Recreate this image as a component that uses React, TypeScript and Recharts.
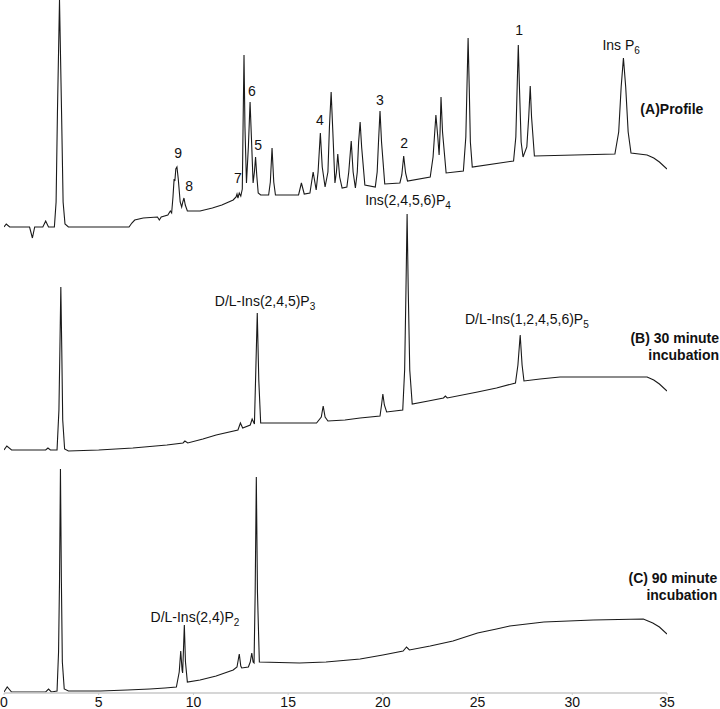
import React from "react";
import { LineChart, Line, XAxis, YAxis, ReferenceDot } from "recharts";

// Retention time (min) vs detector signal
const traceProfile: [number, number][] = [
  [0, 0], [0.12, 3], [0.3, 0], [1.35, 0], [1.5, -11], [1.62, 0], [2.05, 0], [2.2, 6], [2.35, 0],
  [2.66, 0], [2.75, 25], [2.82, 113], [2.93, 227], [3.04, 113], [3.12, 25], [3.22, 3], [3.4, 0],
  [6.6, 0], [6.75, 4], [6.9, 7], [7.35, 9], [8.1, 10], [8.2, 7], [8.3, 10], [8.65, 12], [8.78, 16],
  [8.85, 14], [8.92, 30], [8.98, 48], [9.02, 46], [9.07, 58], [9.13, 60], [9.2, 48], [9.3, 25],
  [9.38, 20], [9.44, 25], [9.5, 29], [9.57, 22], [9.68, 16], [9.9, 16], [10.35, 16], [11.0, 19],
  [11.5, 22], [12.1, 27], [12.25, 30], [12.3, 33], [12.35, 29], [12.42, 34], [12.5, 31],
  [12.58, 38], [12.62, 100], [12.67, 172], [12.72, 100], [12.8, 44], [12.9, 80], [12.99, 125],
  [13.08, 80], [13.15, 44], [13.22, 55], [13.28, 70], [13.35, 50], [13.42, 34], [13.55, 32],
  [13.97, 32], [14.06, 45], [14.15, 79], [14.24, 45], [14.33, 32], [15.55, 32], [15.7, 44],
  [15.85, 33], [16.15, 34], [16.32, 55], [16.48, 37], [16.58, 55], [16.7, 94], [16.8, 60],
  [16.95, 40], [17.1, 55], [17.18, 100], [17.27, 135], [17.36, 95], [17.47, 44], [17.55, 55],
  [17.62, 73], [17.72, 50], [17.85, 39], [18.1, 40], [18.2, 55], [18.33, 86], [18.43, 55],
  [18.55, 39], [18.65, 55], [18.72, 85], [18.8, 105], [18.88, 80], [19.05, 42], [19.6, 40],
  [19.7, 55], [19.77, 85], [19.85, 116], [19.93, 85], [20.1, 43], [20.9, 44], [21.0, 52],
  [21.1, 71], [21.2, 54], [21.3, 46], [22.5, 50], [22.65, 70], [22.8, 112], [22.9, 90],
  [22.97, 72], [23.02, 95], [23.07, 130], [23.15, 95], [23.34, 54], [24.25, 56], [24.38, 90],
  [24.44, 140], [24.5, 189], [24.56, 140], [24.62, 85], [24.72, 60], [26.9, 66], [27.02, 90],
  [27.09, 140], [27.15, 182], [27.21, 140], [27.3, 85], [27.4, 70], [27.6, 80], [27.7, 110],
  [27.78, 141], [27.85, 110], [28.0, 71], [32.25, 73], [32.45, 95], [32.58, 140], [32.7, 169],
  [32.82, 140], [32.95, 95], [33.1, 74], [33.95, 72], [34.3, 69], [34.6, 65], [35.0, 58],
];

const trace30min: [number, number][] = [
  [0, 0], [0.15, 4], [0.4, 0], [2.2, 0], [2.32, 2], [2.45, 0], [2.8, 0], [2.9, 40], [2.95, 100],
  [3.0, 163], [3.05, 100], [3.1, 30], [3.2, 1], [3.4, -1], [5.0, 0], [6.8, 2], [8.0, 4], [8.6, 5],
  [9.45, 7], [9.55, 9], [9.7, 7], [10.5, 11], [11.2, 15], [12.35, 20], [12.48, 27], [12.6, 22],
  [13.0, 25], [13.1, 31], [13.22, 26], [13.28, 70], [13.37, 137], [13.45, 70], [13.55, 27],
  [16.5, 27], [16.75, 33], [16.85, 44], [16.95, 33], [17.1, 29], [18.0, 30], [18.8, 32],
  [19.85, 34], [19.93, 45], [20.0, 56], [20.08, 45], [20.2, 38], [21.05, 40], [21.15, 80],
  [21.22, 160], [21.28, 236], [21.34, 160], [21.42, 80], [21.55, 46], [22.4, 49], [23.2, 52],
  [23.3, 54], [23.4, 52], [25.0, 58], [26.0, 62], [27.0, 67], [27.13, 85], [27.25, 115],
  [27.35, 85], [27.45, 69], [28.3, 71], [29.35, 73], [32.9, 73], [33.95, 73], [34.3, 70],
  [34.6, 66], [35.0, 59],
];

const trace90min: [number, number][] = [
  [0, 0], [0.17, 5], [0.4, 0], [2.2, 0], [2.35, 3], [2.5, 0], [2.8, 1], [2.88, 40], [2.93, 110],
  [2.98, 223], [3.03, 110], [3.08, 30], [3.18, 3], [3.4, 1], [5.1, 1], [6.5, 2], [7.7, 3],
  [8.5, 4], [9.1, 5], [9.25, 20], [9.33, 41], [9.4, 22], [9.43, 19], [9.47, 40], [9.52, 67],
  [9.58, 30], [9.68, 10], [10.35, 12], [11.2, 16], [12.1, 22], [12.3, 25], [12.42, 38],
  [12.5, 26], [12.55, 24], [12.9, 25], [13.0, 30], [13.08, 39], [13.15, 30], [13.2, 29],
  [13.26, 100], [13.32, 215], [13.38, 100], [13.48, 30], [15.6, 29], [17.0, 30], [18.8, 33],
  [20.0, 37], [21.07, 41], [21.25, 45], [21.4, 42], [22.5, 46], [23.7, 51], [25.0, 59],
  [26.0, 63], [26.7, 66], [28.5, 70], [31.1, 72], [33.75, 73], [34.25, 69], [34.6, 65],
  [35.0, 58],
];

const xTicks = [0, 5, 10, 15, 20, 25, 30, 35];

type Annot = { series: string; t: number; v: number; text: string; sub?: string };

const peakLabels: Annot[] = [
  { series: "a", t: 9.19, v: 69, text: "9" },
  { series: "a", t: 9.77, v: 36, text: "8" },
  { series: "a", t: 12.35, v: 44, text: "7" },
  { series: "a", t: 13.09, v: 131, text: "6" },
  { series: "a", t: 13.41, v: 77, text: "5" },
  { series: "a", t: 16.68, v: 102, text: "4" },
  { series: "a", t: 19.85, v: 122, text: "3" },
  { series: "a", t: 21.12, v: 79, text: "2" },
  { series: "a", t: 27.19, v: 192, text: "1" },
  { series: "a", t: 32.58, v: 177, text: "Ins P", sub: "6" },
  { series: "b", t: 21.33, v: 245, text: "Ins(2,4,5,6)P", sub: "4" },
  { series: "b", t: 13.78, v: 144, text: "D/L-Ins(2,4,5)P", sub: "3" },
  { series: "b", t: 27.6, v: 126, text: "D/L-Ins(1,2,4,5,6)P", sub: "5" },
  { series: "c", t: 10.08, v: 70, text: "D/L-Ins(2,4)P", sub: "2" },
];

type Panel = { series: string; t: number; v: number; lines: string[] };
const panelLabels: Panel[] = [
  { series: "a", t: 36.92, v: 113, lines: ["(A)Profile"] },
  { series: "b", t: 37.75, v: 107, lines: ["(B) 30 minute", "incubation"] },
  { series: "c", t: 37.65, v: 109, lines: ["(C) 90 minute", "incubation"] },
];

const FONT = '"Liberation Sans", Arial, Helvetica, sans-serif';

const toRows = (arr: [number, number][]) => arr.map(([t, v]) => ({ t, v }));

const CHART_W = 720;
const CHART_H = 709;
const PLOT_H = 693;

// Each trace gets its own hidden y scale so the chromatograms are stacked
const domains: Record<string, [number, number]> = {
  a: [-(PLOT_H - 227), 227],
  b: [-(PLOT_H - 450), 450],
  c: [-(PLOT_H - 692), 692],
};

export default function App() {
  return (
    <div style={{ position: "absolute", left: 0, top: 0, background: "#fff" }}>
      <LineChart
        width={CHART_W}
        height={CHART_H}
        margin={{ top: 0, right: 53, bottom: 0, left: 4 }}
      >
        <XAxis
          dataKey="t"
          type="number"
          domain={[0, 35]}
          ticks={xTicks}
          allowDataOverflow
          height={16}
          axisLine={{ stroke: "#c8c8c8", strokeWidth: 1.5 }}
          tickLine={{ stroke: "#c8c8c8" }}
          tickSize={2}
          tickMargin={2}
          tick={{ fill: "#111", fontSize: 14, fontFamily: FONT }}
        />
        {(["a", "b", "c"] as const).map((id) => (
          <YAxis key={id} yAxisId={id} hide type="number" domain={domains[id]} allowDataOverflow />
        ))}
        <Line yAxisId="a" data={toRows(traceProfile)} dataKey="v" type="linear" dot={false}
          stroke="#1a1a1a" strokeWidth={1.1} isAnimationActive={false} />
        <Line yAxisId="b" data={toRows(trace30min)} dataKey="v" type="linear" dot={false}
          stroke="#1a1a1a" strokeWidth={1.1} isAnimationActive={false} />
        <Line yAxisId="c" data={toRows(trace90min)} dataKey="v" type="linear" dot={false}
          stroke="#1a1a1a" strokeWidth={1.1} isAnimationActive={false} />
        {peakLabels.map((a, i) => (
          <ReferenceDot
            key={"p" + i}
            yAxisId={a.series}
            x={a.t}
            y={a.v}
            r={0}
            fill="none"
            stroke="none"
            ifOverflow="visible"
            label={{
              content: (p: any) => {
                const vb = p.viewBox || {};
                const x = (vb.x ?? 0) + (vb.width ?? 0) / 2;
                const y = (vb.y ?? 0) + (vb.height ?? 0) / 2;
                return (
                  <text x={x} y={y} textAnchor="middle" fontFamily={FONT} fontSize={14} fill="#111">
                    <tspan>{a.text}</tspan>
                    {a.sub ? (
                      <tspan dy={4} fontSize={10}>{a.sub}</tspan>
                    ) : null}
                  </text>
                );
              },
            }}
          />
        ))}
        {panelLabels.map((a, i) => (
          <ReferenceDot
            key={"q" + i}
            yAxisId={a.series}
            x={a.t}
            y={a.v}
            r={0}
            fill="none"
            stroke="none"
            ifOverflow="visible"
            label={{
              content: (p: any) => {
                const vb = p.viewBox || {};
                const x = (vb.x ?? 0) + (vb.width ?? 0) / 2;
                const y = (vb.y ?? 0) + (vb.height ?? 0) / 2;
                return (
                  <text x={x} y={y} textAnchor="end" fontFamily={FONT} fontSize={14}
                    fontWeight="bold" fill="#111">
                    {a.lines.map((ln, j) => (
                      <tspan key={j} x={x} dy={j === 0 ? 0 : 16.5}>{ln}</tspan>
                    ))}
                  </text>
                );
              },
            }}
          />
        ))}
      </LineChart>
    </div>
  );
}
